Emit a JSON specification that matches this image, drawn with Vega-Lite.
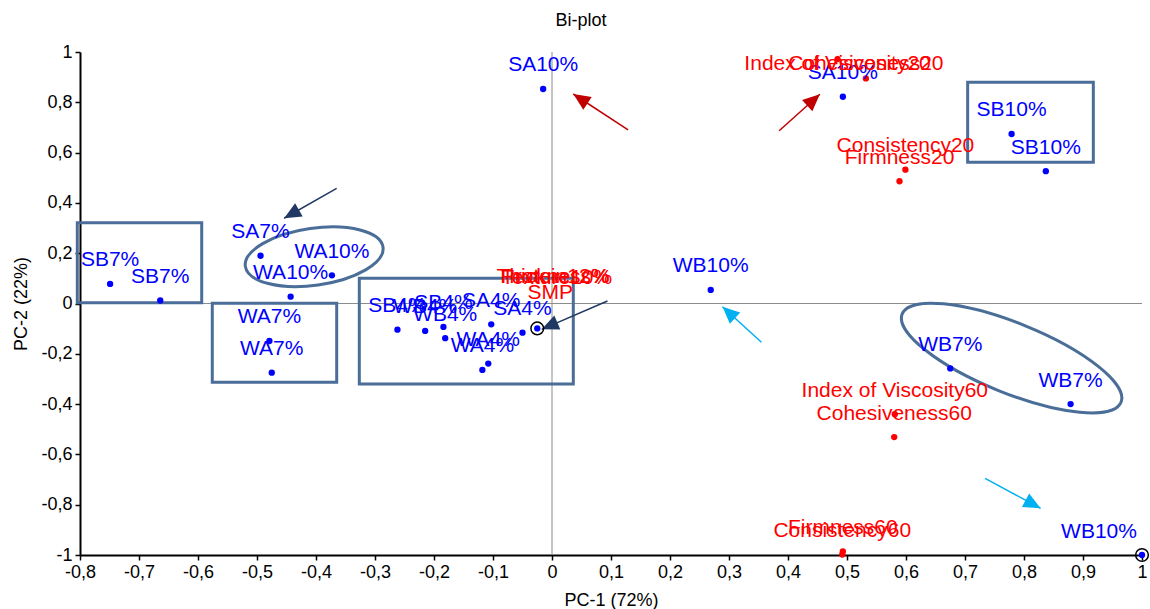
{
  "$schema": "https://vega.github.io/schema/vega-lite/v6.json",
  "width": 1062,
  "height": 503,
  "autosize": {"type": "none"},
  "padding": {"left": 80, "top": 52, "right": 8, "bottom": 54},
  "background": "white",
  "title": {"text": "Bi-plot", "fontSize": 18, "fontWeight": "normal", "font": "Liberation Sans", "color": "black", "offset": 13, "dx": -30, "anchor": "middle"},
  "config": {
    "view": {"stroke": null},
    "font": "Liberation Sans",
    "axis": {"domainColor": "black", "domainWidth": 2, "tickColor": "black", "tickWidth": 1.5, "tickSize": 5, "labelFontSize": 18, "labelColor": "black", "titleFontSize": 18, "titleFontWeight": "normal", "titleColor": "black", "grid": false, "labelFont": "Liberation Sans", "titleFont": "Liberation Sans", "labelOverlap": false, "labelFlush": false, "labelPadding": 3}
  },
  "datasets": {
    "obs": [
      {"label": "SB7%", "x": -0.749, "y": 0.078},
      {"label": "SB7%", "x": -0.664, "y": 0.012},
      {"label": "SA7%", "x": -0.494, "y": 0.19},
      {"label": "WA10%", "x": -0.373, "y": 0.112},
      {"label": "WA10%", "x": -0.443, "y": 0.027},
      {"label": "WA7%", "x": -0.479, "y": -0.149},
      {"label": "WA7%", "x": -0.475, "y": -0.275},
      {"label": "SB4%", "x": -0.262, "y": -0.104},
      {"label": "WB4%", "x": -0.215, "y": -0.109},
      {"label": "SB4%", "x": -0.184, "y": -0.093},
      {"label": "WB4%", "x": -0.181, "y": -0.138},
      {"label": "SA4%", "x": -0.103, "y": -0.083},
      {"label": "WA4%", "x": -0.108, "y": -0.239},
      {"label": "WA4%", "x": -0.118, "y": -0.264},
      {"label": "SA4%", "x": -0.05, "y": -0.116},
      {"label": "", "x": -0.025, "y": -0.099},
      {"label": "SA10%", "x": -0.015, "y": 0.853},
      {"label": "WB10%", "x": 0.269, "y": 0.054},
      {"label": "SA10%", "x": 0.493, "y": 0.822},
      {"label": "SB10%", "x": 0.779, "y": 0.674},
      {"label": "SB10%", "x": 0.837, "y": 0.526},
      {"label": "WB7%", "x": 0.675, "y": -0.258},
      {"label": "WB7%", "x": 0.879, "y": -0.4},
      {"label": "WB10%", "x": 1.0, "y": -1.0}
    ],
    "vars": [
      {"label": "Index of Viscosity20", "x": 0.484, "y": 0.972},
      {"label": "Cohesiveness20", "x": 0.532, "y": 0.895},
      {"label": "Consistency20", "x": 0.599, "y": 0.532},
      {"label": "Firmness20", "x": 0.589, "y": 0.486},
      {"label": "Index of Viscosity60", "x": 0.581, "y": -0.44},
      {"label": "Cohesiveness60", "x": 0.58, "y": -0.531},
      {"label": "Firmness60", "x": 0.493, "y": -0.986},
      {"label": "Consistency60", "x": 0.492, "y": -0.998}
    ],
    "originLabels": [
      {"label": "Thickness%", "x": 0.002, "y": 0.01},
      {"label": "Protein12%", "x": 0.005, "y": 0.012},
      {"label": "Texture10%", "x": 0.008, "y": 0.008},
      {"label": "SMP", "x": -0.003, "y": -0.052}
    ],
    "highlight": [
      {"x": -0.025, "y": -0.099},
      {"x": 1.0, "y": -1.0}
    ],
    "rects": [
      {"x": -0.8046, "x2": -0.5937, "y": 0.321, "y2": 0.003},
      {"x": -0.5758, "x2": -0.3649, "y": 0.0008, "y2": -0.313},
      {"x": -0.3266, "x2": 0.0361, "y": 0.1002, "y2": -0.32},
      {"x": 0.7045, "x2": 0.9175, "y": 0.8795, "y2": 0.5614}
    ],
    "arrows": [
      {"group": "A", "tx": -0.365, "ty": 0.458, "hx": -0.454, "hy": 0.339},
      {"group": "A", "tx": 0.094, "ty": 0.01, "hx": -0.0174, "hy": -0.1027},
      {"group": "B", "tx": 0.129, "ty": 0.69, "hx": 0.0361, "hy": 0.833},
      {"group": "B", "tx": 0.385, "ty": 0.687, "hx": 0.454, "hy": 0.832},
      {"group": "C", "tx": 0.355, "ty": -0.154, "hx": 0.289, "hy": -0.0127},
      {"group": "C", "tx": 0.734, "ty": -0.695, "hx": 0.828, "hy": -0.814}
    ]
  },
  "layer": [
    {
      "data": {"values": [{"x": 0}]},
      "mark": {"type": "rule", "color": "#8c8c8c", "strokeWidth": 1},
      "encoding": {
        "x": {"field": "x", "type": "quantitative", "scale": {"domain": [-0.8, 1], "nice": false, "zero": false},
          "axis": {"title": "PC-1 (72%)", "values": [-0.8,-0.75,-0.7,-0.65,-0.6,-0.55,-0.5,-0.45,-0.4,-0.35,-0.3,-0.25,-0.2,-0.15,-0.1,-0.05,0,0.05,0.1,0.15,0.2,0.25,0.3,0.35,0.4,0.45,0.5,0.55,0.6,0.65,0.7,0.75,0.8,0.85,0.9,0.95,1],
            "labelExpr": "abs(round(datum.value*20)) % 2 == 1 ? '' : replace(datum.value + '', '.', ',')", "titlePadding": 10}}
      }
    },
    {
      "data": {"values": [{"y": 0}]},
      "mark": {"type": "rule", "color": "#8c8c8c", "strokeWidth": 1},
      "encoding": {
        "y": {"field": "y", "type": "quantitative", "scale": {"domain": [-1, 1], "nice": false, "zero": false},
          "axis": {"title": "PC-2 (22%)", "values": [-1,-0.9,-0.8,-0.7,-0.6,-0.5,-0.4,-0.3,-0.2,-0.1,0,0.1,0.2,0.3,0.4,0.5,0.6,0.7,0.8,0.9,1],
            "labelExpr": "abs(round(datum.value*10)) % 2 == 1 ? '' : replace(datum.value + '', '.', ',')", "titlePadding": 10}}
      }
    },
    {
      "data": {"name": "rects"},
      "mark": {"type": "rect", "fillOpacity": 0, "stroke": "#4a6e98", "strokeWidth": 3},
      "encoding": {
        "x": {"field": "x", "type": "quantitative"},
        "x2": {"field": "x2"},
        "y": {"field": "y", "type": "quantitative"},
        "y2": {"field": "y2"}
      }
    },
    {
      "data": {"values": [{"x": -0.4031, "y": 0.186}]},
      "mark": {"type": "point", "shape": "M1,0 C1,0.2264 0.5523,0.41 0,0.41 C-0.5523,0.41 -1,0.2264 -1,0 C-1,-0.2264 -0.5523,-0.41 0,-0.41 C0.5523,-0.41 1,-0.2264 1,0 Z", "size": 19321, "angle": -8, "filled": false, "color": "#4a6e98", "strokeWidth": 3, "opacity": 1},
      "encoding": {"x": {"field": "x", "type": "quantitative"}, "y": {"field": "y", "type": "quantitative"}}
    },
    {
      "data": {"values": [{"x": 0.779, "y": -0.217}]},
      "mark": {"type": "point", "shape": "M1,0 C1,0.164 0.5523,0.297 0,0.297 C-0.5523,0.297 -1,0.164 -1,0 C-1,-0.164 -0.5523,-0.297 0,-0.297 C0.5523,-0.297 1,-0.164 1,0 Z", "size": 55696, "angle": 22, "filled": false, "color": "#4a6e98", "strokeWidth": 3, "opacity": 1},
      "encoding": {"x": {"field": "x", "type": "quantitative"}, "y": {"field": "y", "type": "quantitative"}}
    },
    {
      "data": {"name": "arrows"},
      "mark": {"type": "rule", "strokeWidth": 1.5},
      "encoding": {
        "x": {"field": "tx", "type": "quantitative"},
        "y": {"field": "ty", "type": "quantitative"},
        "x2": {"field": "hx"},
        "y2": {"field": "hy"},
        "color": {"field": "group", "type": "nominal", "scale": {"domain": ["A", "B", "C"], "range": ["#1f3864", "#c00000", "#00b0f0"]}, "legend": null}
      }
    },
    {
      "data": {"name": "arrows"},
      "mark": {"type": "point", "shape": "M0,0 L-0.45,1 L0.45,1 Z", "size": 1156, "filled": true, "opacity": 1, "strokeWidth": 0},
      "encoding": {
        "x": {"field": "hx", "type": "quantitative"},
        "y": {"field": "hy", "type": "quantitative"},
        "color": {"field": "group", "type": "nominal", "legend": null},
        "angle": {"value": {"expr": "atan2(scale('x', datum.hx) - scale('x', datum.tx), scale('y', datum.ty) - scale('y', datum.hy)) * 180 / PI"}}
      }
    },
    {
      "data": {"name": "obs"},
      "mark": {"type": "point", "shape": "circle", "filled": true, "size": 40, "color": "#0000ff", "opacity": 1},
      "encoding": {"x": {"field": "x", "type": "quantitative"}, "y": {"field": "y", "type": "quantitative"}}
    },
    {
      "data": {"name": "vars"},
      "mark": {"type": "point", "shape": "circle", "filled": true, "size": 40, "color": "#ff0000", "opacity": 1},
      "encoding": {"x": {"field": "x", "type": "quantitative"}, "y": {"field": "y", "type": "quantitative"}}
    },
    {
      "data": {"name": "highlight"},
      "mark": {"type": "point", "shape": "circle", "filled": false, "size": 160, "color": "black", "strokeWidth": 1.5, "opacity": 1},
      "encoding": {"x": {"field": "x", "type": "quantitative"}, "y": {"field": "y", "type": "quantitative"}}
    },
    {
      "data": {"name": "obs"},
      "mark": {"type": "text", "font": "Liberation Sans", "fontSize": 21, "color": "#0000ff", "baseline": "middle", "align": "center",
        "dy": {"expr": "max(-23.5, 12 - scale('y', datum.y))"}, "dx": {"expr": "min(0, 1019 - scale('x', datum.x))"}},
      "encoding": {"x": {"field": "x", "type": "quantitative"}, "y": {"field": "y", "type": "quantitative"}, "text": {"field": "label"}}
    },
    {
      "data": {"name": "vars"},
      "mark": {"type": "text", "font": "Liberation Sans", "fontSize": 21, "color": "#ff0000", "baseline": "middle", "align": "center",
        "dy": {"expr": "max(-23.5, 12 - scale('y', datum.y))"}},
      "encoding": {"x": {"field": "x", "type": "quantitative"}, "y": {"field": "y", "type": "quantitative"}, "text": {"field": "label"}}
    },
    {
      "data": {"name": "originLabels"},
      "mark": {"type": "text", "font": "Liberation Sans", "fontSize": 21, "color": "#ff0000", "baseline": "middle", "align": "center", "dy": -23.5},
      "encoding": {"x": {"field": "x", "type": "quantitative"}, "y": {"field": "y", "type": "quantitative"}, "text": {"field": "label"}}
    }
  ]
}
